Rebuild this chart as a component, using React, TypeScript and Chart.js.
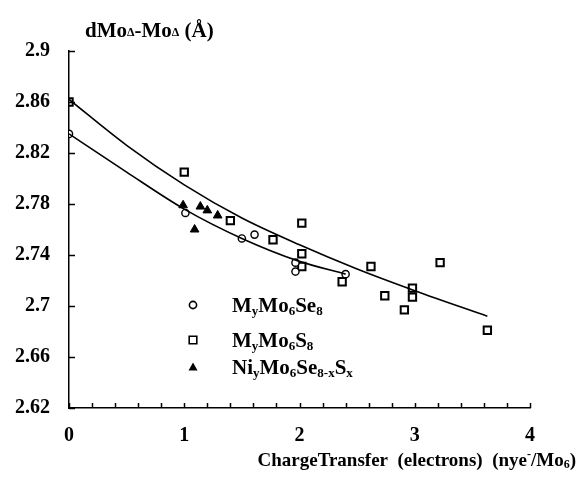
import React, { useEffect, useRef } from 'react';
import { Chart, registerables } from 'chart.js';
Chart.register(...registerables);

// ---- data ----
const SE8_X = [0, 1.01, 1.5, 1.61, 1.965, 1.965, 2.4];
const SE8_Y = [2.835, 2.773, 2.753, 2.756, 2.734, 2.727, 2.725];

const S8_X = [0, 1.0, 1.4, 1.77, 2.02, 2.02, 2.02, 2.37, 2.62, 2.74, 2.91, 2.98, 2.98, 3.22, 3.63];
const S8_Y = [2.86, 2.805, 2.767, 2.752, 2.765, 2.741, 2.731, 2.719, 2.731, 2.708, 2.697, 2.714, 2.707, 2.734, 2.681];

const NI_X = [0.99, 1.09, 1.14, 1.2, 1.29];
const NI_Y = [2.779, 2.76, 2.778, 2.775, 2.771];

const FIT_S8_X = [0, 0.5, 1, 1.5, 2, 2.5, 3, 3.63];
const FIT_S8_Y = [2.862, 2.826, 2.795, 2.769, 2.748, 2.729, 2.712, 2.692];

const FIT_SE8_X = [0, 0.5, 1, 1.5, 2, 2.4];
const FIT_SE8_Y = [2.835, 2.805, 2.776, 2.753, 2.735, 2.725];

const X_TICKS = [0, 1, 2, 3, 4];
const X_MINOR = [0, 0.2, 0.4, 0.6, 0.8, 1, 1.2, 1.4, 1.6, 1.8, 2, 2.2, 2.4, 2.6, 2.8, 3, 3.2, 3.4, 3.6, 3.8, 4];
const Y_TICKS = [2.62, 2.66, 2.7, 2.74, 2.78, 2.82, 2.86, 2.9];

type Seg = { t: string; s: number; dy?: number };
const Y_TITLE: Seg[] = [
  { t: 'dMo', s: 21 }, { t: '\u0394', s: 12, dy: -1 }, { t: '-Mo', s: 21 }, { t: '\u0394', s: 12, dy: -1 }, { t: ' (\u00C5)', s: 21 },
];
const X_TITLE: Seg[] = [
  { t: 'ChargeTransfer  (electrons)  (nye', s: 19 }, { t: '-', s: 12, dy: -8 }, { t: '/Mo', s: 19 }, { t: '6', s: 12, dy: 2 }, { t: ')', s: 19 },
];
const LEGEND_LABELS: Seg[][] = [
  [{ t: 'M', s: 21 }, { t: 'y', s: 13, dy: 3 }, { t: 'Mo', s: 21 }, { t: '6', s: 13, dy: 3 }, { t: 'Se', s: 21 }, { t: '8', s: 13, dy: 3 }],
  [{ t: 'M', s: 21 }, { t: 'y', s: 13, dy: 3 }, { t: 'Mo', s: 21 }, { t: '6', s: 13, dy: 3 }, { t: 'S', s: 21 }, { t: '8', s: 13, dy: 3 }],
  [{ t: 'Ni', s: 21 }, { t: 'y', s: 13, dy: 3 }, { t: 'Mo', s: 21 }, { t: '6', s: 13, dy: 3 }, { t: 'Se', s: 21 }, { t: '8-x', s: 13, dy: 3 }, { t: 'S', s: 21 }, { t: 'x', s: 13, dy: 3 }],
];
const LEGEND_STYLES = ['circle', 'rect', 'triangle'];

const FONT = '"Liberation Serif", "Times New Roman", serif';

function drawRich(ctx: CanvasRenderingContext2D, x: number, y: number, segs: Seg[], align: 'left' | 'right' = 'left') {
  let total = 0;
  for (const sg of segs) {
    ctx.font = `bold ${sg.s}px ${FONT}`;
    total += ctx.measureText(sg.t).width;
  }
  let cx = align === 'right' ? x - total : x;
  ctx.textBaseline = 'alphabetic';
  ctx.textAlign = 'left';
  for (const sg of segs) {
    ctx.font = `bold ${sg.s}px ${FONT}`;
    ctx.fillText(sg.t, cx, y + (sg.dy || 0));
    cx += ctx.measureText(sg.t).width;
  }
}

function marker(ctx: CanvasRenderingContext2D, style: string, x: number, y: number) {
  ctx.save();
  ctx.strokeStyle = '#000';
  ctx.fillStyle = '#000';
  ctx.lineWidth = 1.6;
  ctx.beginPath();
  if (style === 'circle') {
    ctx.arc(x, y, 3.6, 0, Math.PI * 2);
    ctx.stroke();
  } else if (style === 'rect') {
    ctx.rect(x - 3.8, y - 3.8, 7.6, 7.6);
    ctx.stroke();
  } else {
    ctx.moveTo(x, y - 4.5);
    ctx.lineTo(x + 4.5, y + 3.5);
    ctx.lineTo(x - 4.5, y + 3.5);
    ctx.closePath();
    ctx.fill();
  }
  ctx.restore();
}

const decorPlugin = {
  id: 'decor',
  afterDraw(chart: any) {
    const ctx: CanvasRenderingContext2D = chart.ctx;
    const xs = chart.scales.x;
    const ys = chart.scales.y;
    const area = chart.chartArea;
    ctx.save();
    ctx.strokeStyle = '#000';
    ctx.lineWidth = 1.5;
    for (const v of Y_TICKS) {
      const py = Math.round(ys.getPixelForValue(v)) + 0.5;
      ctx.beginPath();
      ctx.moveTo(area.left, py);
      ctx.lineTo(area.left + 6, py);
      ctx.stroke();
    }
    for (const v of X_MINOR) {
      const px = Math.round(xs.getPixelForValue(v)) + 0.5;
      ctx.beginPath();
      ctx.moveTo(px, area.bottom);
      ctx.lineTo(px, area.bottom - 5);
      ctx.stroke();
    }
    ctx.fillStyle = '#000';
    drawRich(ctx, 85, 37, Y_TITLE);
    drawRich(ctx, 576, 466, X_TITLE, 'right');
    const rows = [305, 340, 367];
    LEGEND_LABELS.forEach((lab, i) => {
      marker(ctx, LEGEND_STYLES[i], 193, rows[i]);
      drawRich(ctx, 232, rows[i] + 7, lab);
    });
    ctx.restore();
  },
};

const pts = (xs: number[], ys: number[]) => xs.map((x, i) => ({ x, y: ys[i] }));

export default function App() {
  const ref = useRef<HTMLCanvasElement | null>(null);
  useEffect(() => {
    document.body.style.margin = '0';
    const chart = new Chart(ref.current as HTMLCanvasElement, {
      type: 'scatter',
      data: {
        datasets: [
          {
            label: 'fit S8', data: pts(FIT_S8_X, FIT_S8_Y), showLine: true, borderColor: '#000', borderWidth: 1.6,
            pointRadius: 0, cubicInterpolationMode: 'monotone', fill: false,
          } as any,
          {
            label: 'fit Se8', data: pts(FIT_SE8_X, FIT_SE8_Y), showLine: true, borderColor: '#000', borderWidth: 1.6,
            pointRadius: 0, cubicInterpolationMode: 'monotone', fill: false,
          } as any,
          {
            label: 'MyMo6Se8', data: pts(SE8_X, SE8_Y), pointStyle: 'circle', pointRadius: 3.6,
            borderColor: '#000', backgroundColor: '#fff', borderWidth: 1.4,
          },
          {
            label: 'MyMo6S8', data: pts(S8_X, S8_Y), pointStyle: 'rect', pointRadius: 5.2,
            borderColor: '#000', backgroundColor: 'rgba(255,255,255,0)', borderWidth: 2,
          },
          {
            label: 'NiyMo6Se8-xSx', data: pts(NI_X, NI_Y), pointStyle: 'triangle', pointRadius: 5,
            borderColor: '#000', backgroundColor: '#000', borderWidth: 1,
          },
        ],
      },
      options: {
        animation: false,
        responsive: false,
        layout: { padding: { top: 51, right: 47, left: 0, bottom: 0 } },
        plugins: { legend: { display: false }, tooltip: { enabled: false } },
        scales: {
          x: {
            type: 'linear', min: 0, max: 4,
            afterFit: (s: any) => { s.height = 84; },
            afterBuildTicks: (s: any) => { s.ticks = X_TICKS.map((v) => ({ value: v })); },
            grid: { display: false, drawTicks: false },
            border: { display: true, color: '#000', width: 1.5 },
            ticks: { color: '#000', font: { family: FONT, size: 20, weight: 'bold' }, padding: 16, maxRotation: 0, callback: (v: any) => String(v) },
          },
          y: {
            type: 'linear', min: 2.62, max: 2.9,
            afterFit: (s: any) => { s.width = 69; },
            afterBuildTicks: (s: any) => { s.ticks = Y_TICKS.map((v) => ({ value: v })); },
            grid: { display: false, drawTicks: false },
            border: { display: true, color: '#000', width: 1.5 },
            ticks: { color: '#000', font: { family: FONT, size: 20, weight: 'bold' }, padding: 19, callback: (v: any) => String(Number(Number(v).toFixed(2))) },
          },
        },
      },
      plugins: [decorPlugin],
    });
    return () => chart.destroy();
  }, []);
  return (
    <div style={{ width: 577, height: 492, background: '#fff' }}>
      <canvas ref={ref} width={577} height={492} style={{ display: 'block' }} />
    </div>
  );
}
